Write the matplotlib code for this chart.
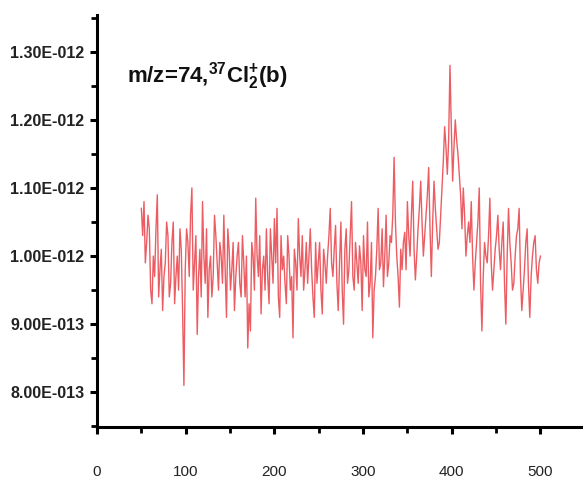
import matplotlib
matplotlib.use("Agg")
import matplotlib.pyplot as plt
from matplotlib.ticker import FixedLocator, FixedFormatter, MultipleLocator

# ---- data (signal in units of 1e-12) ----
x_start = 50
x_step = 1.5
# readings at x = 50, 53, 56, ...
signal_main = [
    1.07, 1.08, 1.02, 1.04, 0.93, 0.97, 1.09, 0.98, 0.92, 0.99,
    1.03, 0.96, 1.05, 0.97, 0.95, 1.01, 0.81, 1.04, 0.97, 1.10,
    0.99, 0.885, 1.01, 1.08, 0.96, 0.91, 1.00, 0.97, 1.03, 0.95,
    1.00, 1.06, 0.91, 1.01, 0.98, 0.92, 1.00, 0.96, 1.03, 0.94,
    0.865, 0.89, 1.00, 1.085, 0.97, 0.915, 1.00, 1.04, 0.93, 1.00,
    1.055, 1.07, 0.91, 0.98, 0.96, 1.03, 0.95, 0.88, 0.99, 1.055,
    0.97, 0.95, 1.02, 1.00, 0.98, 0.91, 0.96, 1.02, 0.915, 0.99,
    1.00, 1.07, 0.97, 1.045, 0.92, 1.05, 0.90, 1.04, 0.98, 1.08,
    0.95, 0.99, 1.015, 0.92, 0.98, 1.05, 0.96, 0.88, 0.97, 1.07,
    0.99, 0.955, 1.06, 0.99, 1.02, 1.145, 1.00, 0.925, 0.98, 1.035,
    1.08, 1.00, 1.11, 0.965, 1.04, 1.11, 1.00, 1.06, 1.13, 0.97,
    1.11, 1.04, 1.02, 1.10, 1.19, 1.12, 1.28, 1.11, 1.20, 1.15,
    1.09, 1.10, 1.00, 1.05, 1.08, 0.95, 1.02, 1.10, 0.89, 1.02,
    0.99, 1.085, 0.95, 1.01, 1.06, 0.98, 1.05, 0.90, 1.07, 0.99,
    0.96, 1.03, 1.07, 0.92, 0.98, 1.04, 0.91, 1.00, 1.03, 0.96,
    1.00,
]
# readings at x = 51.5, 54.5, 57.5, ...
signal_mid = [
    1.03, 0.99, 1.06, 0.95, 1.00, 1.04, 0.94, 1.01, 0.97, 1.05,
    0.94, 1.02, 0.93, 1.00, 1.04, 0.92, 0.98, 1.02, 1.06, 0.95,
    1.03, 0.97, 0.94, 1.00, 1.04, 0.98, 0.94, 1.06, 0.99, 1.02,
    0.96, 0.98, 1.04, 0.95, 1.02, 0.97, 1.02, 0.94, 0.99, 1.00,
    0.93, 1.02, 0.95, 1.00, 1.03, 0.98, 0.95, 0.97, 1.04, 0.96,
    0.99, 0.94, 1.03, 1.00, 0.93, 1.00, 0.97, 1.01, 0.95, 1.00,
    1.03, 0.98, 0.96, 1.04, 0.94, 1.02, 0.99, 0.95, 1.01, 0.96,
    1.03, 0.99, 1.01, 0.96, 0.99, 0.95, 1.01, 0.96, 1.03, 0.97,
    1.02, 0.96, 0.99, 1.03, 0.97, 0.94, 1.02, 0.95, 1.01, 0.98,
    1.04, 1.00, 0.97, 1.03, 1.06, 1.05, 0.97, 1.01, 1.02, 0.98,
    1.03, 1.06, 1.01, 1.00, 1.07, 1.05, 1.03, 1.09, 1.04, 1.05,
    1.07, 1.01, 1.06, 1.14, 1.16, 1.17, 1.19, 1.16, 1.17, 1.12,
    1.04, 1.06, 1.03, 1.02, 1.00, 0.99, 1.05, 0.96, 0.97, 1.00,
    1.03, 0.99, 0.98, 1.03, 1.01, 1.02, 0.96, 1.00, 1.02, 0.95,
    1.00, 1.04, 0.97, 0.95, 1.02, 0.96, 0.97, 1.02, 0.98, 0.99,
]
signal = []
for i, v in enumerate(signal_main):
    signal.append(v)
    if i < len(signal_mid):
        signal.append(signal_mid[i])
x_values = [x_start + i * x_step for i in range(len(signal))]
y_values = [v * 1e-12 for v in signal]

x_ticks = [0, 100, 200, 300, 400, 500]
y_ticks = [8.0e-13, 9.0e-13, 1.0e-12, 1.1e-12, 1.2e-12, 1.3e-12]
y_tick_labels = ["8.00E-013", "9.00E-013", "1.00E-012", "1.10E-012", "1.20E-012", "1.30E-012"]
title_text = r"m/z=74,$^{37}$Cl$_2^{+}$(b)"

# ---- figure ----
plt.rcParams["font.family"] = ["Liberation Sans", "DejaVu Sans"]
plt.rcParams["mathtext.default"] = "regular"

fig = plt.figure(figsize=(5.83, 4.78), dpi=100)
ax = fig.add_axes([97 / 583, 51 / 478, 486 / 583, 412 / 478])

ax.plot(x_values, y_values, color="#e8343c", linewidth=1.0, alpha=0.8)

ax.set_xlim(0, 548)
ax.set_ylim(0.749e-12, 1.354e-12)

ax.spines["top"].set_visible(False)
ax.spines["right"].set_visible(False)
for s in ("left", "bottom"):
    ax.spines[s].set_linewidth(2.2)
    ax.spines[s].set_color("black")

ax.xaxis.set_major_locator(FixedLocator(x_ticks))
ax.xaxis.set_minor_locator(MultipleLocator(50))
ax.yaxis.set_major_locator(FixedLocator(y_ticks))
ax.yaxis.set_major_formatter(FixedFormatter(y_tick_labels))
ax.yaxis.set_minor_locator(MultipleLocator(0.5e-13))

ax.tick_params(axis="both", which="major", direction="out", length=5, width=2.2, color="black")
ax.tick_params(axis="both", which="minor", direction="out", length=4, width=2.0, color="black")
ax.tick_params(axis="x", which="major", pad=22, labelsize=11, labelcolor="#222222")
ax.tick_params(axis="y", which="major", pad=4, labelsize=11.5, labelcolor="#222222")
for lab in ax.get_yticklabels():
    lab.set_fontweight("bold")

ax.text(34, 1.255e-12, title_text, fontsize=16, fontweight="bold", color="#111111",
        ha="left", va="baseline")

fig.savefig("out.png", dpi=100)
